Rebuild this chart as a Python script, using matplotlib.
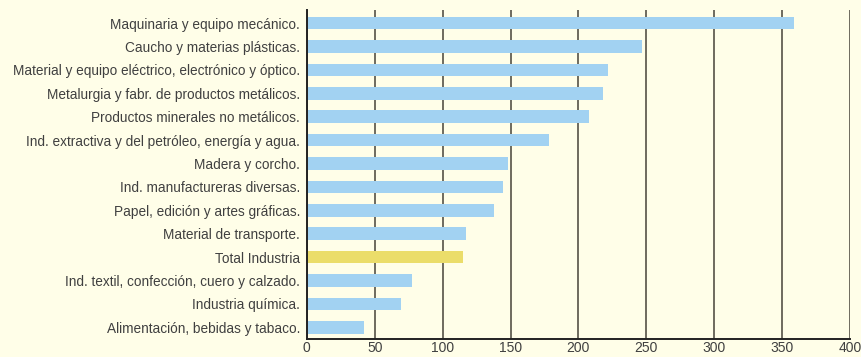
import matplotlib
matplotlib.use("Agg")
import matplotlib.pyplot as plt
import numpy as np

sectores = [
    "Maquinaria y equipo mecánico.",
    "Caucho y materias plásticas.",
    "Material y equipo eléctrico, electrónico y óptico.",
    "Metalurgia y fabr. de productos metálicos.",
    "Productos minerales no metálicos.",
    "Ind. extractiva y del petróleo, energía y agua.",
    "Madera y corcho.",
    "Ind. manufactureras diversas.",
    "Papel, edición y artes gráficas.",
    "Material de transporte.",
    "Total Industria",
    "Ind. textil, confección, cuero y calzado.",
    "Industria química.",
    "Alimentación, bebidas y tabaco.",
]
valores = [359, 247, 221.5, 218, 208, 178, 148, 144.5, 138, 117.5, 115, 77.5, 69.5, 42]
xticks = [0, 50, 100, 150, 200, 250, 300, 350, 400]

fondo = "#fffee8"
azul = "#a2d2f2"
amarillo = "#ebdd6a"
texto = "#404040"

plt.rcParams["font.family"] = ["Liberation Sans", "DejaVu Sans"]

fig = plt.figure(figsize=(8.62, 3.57), dpi=100, facecolor=fondo)
ax = fig.add_axes([0.356, 0.05, 0.630, 0.922], facecolor=fondo)

y = np.arange(len(sectores))
colores = [amarillo if s == "Total Industria" else azul for s in sectores]
ax.barh(y, valores, height=0.54, color=colores, zorder=3)

ax.set_xlim(0, 400)
ax.set_ylim(13.51, -0.56)
ax.set_xticks(xticks)
ax.set_yticks(y)
ax.set_yticklabels(sectores)
ax.xaxis.grid(True, color="#6e6a5e", linewidth=1.4, zorder=1)

for s in ["top", "right"]:
    ax.spines[s].set_visible(False)
for s in ["left", "bottom"]:
    ax.spines[s].set_color("#222222")
    ax.spines[s].set_linewidth(1.4)
    ax.spines[s].set_zorder(4)

ax.tick_params(axis="y", length=0, pad=5, labelsize=9.8, labelcolor=texto)
ax.tick_params(axis="x", length=0, pad=1.5, labelsize=10, labelcolor=texto)

fig.savefig("out.png", dpi=100, facecolor=fondo)
